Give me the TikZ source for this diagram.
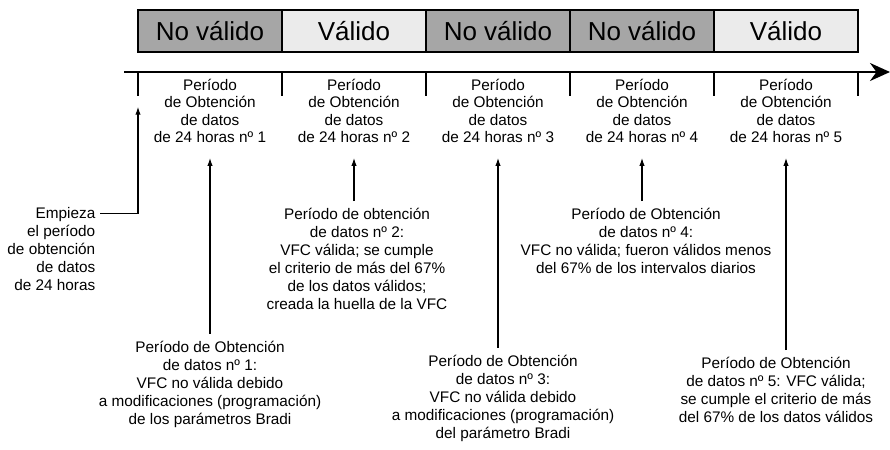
\documentclass[tikz,border=0pt]{standalone}
\usepackage{fontspec}
\setmainfont{Liberation Sans}
\usetikzlibrary{arrows.meta}

\definecolor{badgray}{HTML}{A6A6A6}
\definecolor{goodgray}{HTML}{EBEBEB}

\tikzset{
    state/.style={draw=black, line width=1.5pt, minimum width=108pt, minimum height=31.5pt, inner sep=0pt, font=\fontsize{19.5}{22}\selectfont},
    bad/.style={state, fill=badgray},
    good/.style={state, fill=goodgray},
    period/.style={align=center, outer ysep=8pt, font=\fontsize{11.5}{13}\selectfont},
    note/.style={align=center, outer ysep=2pt, font=\fontsize{11.5}{13.5}\selectfont},
    pointer/.style={-{Latex[length=6pt,width=4pt]}, line width=0.9pt},
    tick/.style={line width=1.5pt}
}

\begin{document}
\begin{tikzpicture}[x=0.75pt, y=-0.75pt]
    \useasboundingbox (0,0) rectangle (890,450);

    % estado de cada periodo
    \node[bad]  (b1) at (210,31) {No válido};
    \node[good] (b2) at (354,31) {Válido};
    \node[bad]  (b3) at (498,31) {No válido};
    \node[bad]  (b4) at (642,31) {No válido};
    \node[good] (b5) at (786,31) {Válido};

    % eje de tiempo
    \draw[line width=1.5pt, -{Stealth[length=15pt, width=13.5pt]}] (124,72) -- (890,72);
    \draw[tick] (138,72) -- (138,96);
    \draw[tick] (282,72) -- (282,96);
    \draw[tick] (426,72) -- (426,96);
    \draw[tick] (570,72) -- (570,96);
    \draw[tick] (714,72) -- (714,96);
    \draw[tick] (858,72) -- (858,96);
    \coordinate (t0) at (138,96);

    \node[period] (p1) at (210,111) {Período\\de Obtención\\de datos\\de 24 horas nº 1};
    \node[period] (p2) at (354,111) {Período\\de Obtención\\de datos\\de 24 horas nº 2};
    \node[period] (p3) at (498,111) {Período\\de Obtención\\de datos\\de 24 horas nº 3};
    \node[period] (p4) at (642,111) {Período\\de Obtención\\de datos\\de 24 horas nº 4};
    \node[period] (p5) at (786,111) {Período\\de Obtención\\de datos\\de 24 horas nº 5};

    % notas
    \node[note, align=right, outer ysep=0pt, anchor=north east] (start) at (100,203)
        {Empieza\\el período\\de obtención\\de datos\\de 24 horas};
    \node[note] (n1) at (210,384) {Período de Obtención\\de datos nº 1:\\VFC no válida debido\\a modificaciones (programación)\\de los parámetros Bradi};
    \node[note] (n2) at (357,259) {Período de obtención\\de datos nº 2:\\VFC válida; se cumple\\el criterio de más del 67\%\\de los datos válidos;\\creada la huella de la VFC};
    \node[note] (n3) at (503,398) {Período de Obtención\\de datos nº 3:\\VFC no válida debido\\a modificaciones (programación)\\del parámetro Bradi};
    \node[note] (n4) at (646,241) {Período de Obtención\\de datos nº 4:\\VFC no válida; fueron válidos menos\\del 67\% de los intervalos diarios};
    \node[note] (n5) at (776,390) {Período de Obtención\\de datos nº 5: VFC válida;\\se cumple el criterio de más\\del 67\% de los datos válidos};

    \draw[pointer] ([yshift=-8pt]start.north east) -| ([yshift=-8pt]t0);
    \draw[pointer] (p1.south |- n1.north) -- (p1.south);
    \draw[pointer] (p2.south |- n2.north) -- (p2.south);
    \draw[pointer] (p3.south |- n3.north) -- (p3.south);
    \draw[pointer] (p4.south |- n4.north) -- (p4.south);
    \draw[pointer] (p5.south |- n5.north) -- (p5.south);
\end{tikzpicture}
\end{document}
